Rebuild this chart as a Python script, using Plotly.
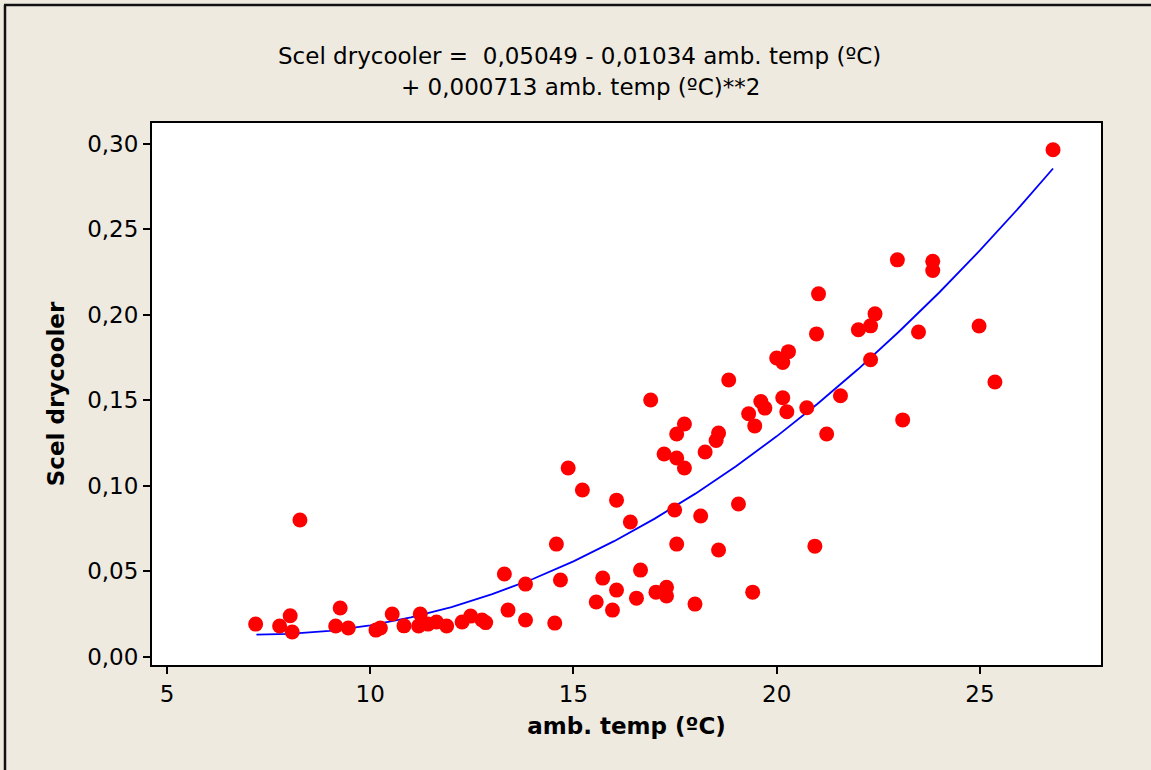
import plotly.graph_objects as go

# Scatter data: ambient temperature (ºC) vs Scel drycooler
amb_temp = [7.18, 7.77, 8.03, 8.08, 8.27, 9.15, 9.26, 9.46, 10.14, 10.25,
            10.54, 10.83, 11.23, 11.19, 11.42, 11.63, 11.88, 12.26, 12.47, 12.75,
            12.84, 13.30, 13.39, 13.82, 13.82, 14.54, 14.58, 14.68, 14.87, 15.22,
            15.56, 15.72, 15.96, 16.06, 16.06, 16.40, 16.55, 16.65, 16.90, 17.03,
            17.29, 17.29, 17.23, 17.49, 17.54, 17.54, 17.54, 17.73, 17.73, 17.99,
            18.13, 18.24, 18.51, 18.57, 18.57, 18.82, 19.06, 19.31, 19.41, 19.46,
            19.61, 19.71, 20.00, 20.15, 20.29, 20.15, 20.25, 20.74, 20.94, 20.98,
            21.03, 21.23, 21.57, 22.01, 22.31, 22.31, 22.42, 22.97, 23.10, 23.49,
            23.84, 23.84, 24.98, 25.37, 26.80]
scel = [0.0191, 0.0180, 0.0240, 0.0145, 0.0800, 0.0180, 0.0285, 0.0168, 0.0156, 0.0168,
        0.0250, 0.0181, 0.0250, 0.0180, 0.0191, 0.0203, 0.0180, 0.0203, 0.0238, 0.0215,
        0.0200, 0.0484, 0.0273, 0.0425, 0.0215, 0.0197, 0.0659, 0.0449, 0.1104, 0.0975,
        0.0320, 0.0460, 0.0273, 0.0390, 0.0916, 0.0788, 0.0343, 0.0507, 0.1501, 0.0378,
        0.0406, 0.0355, 0.1186, 0.0858, 0.0659, 0.1303, 0.1162, 0.1361, 0.1104, 0.0308,
        0.0823, 0.1197, 0.1265, 0.1308, 0.0624, 0.1618, 0.0893, 0.1421, 0.0378, 0.1350,
        0.1493, 0.1454, 0.1747, 0.1721, 0.1784, 0.1515, 0.1433, 0.1456, 0.0647, 0.1888,
        0.2122, 0.1303, 0.1526, 0.1912, 0.1935, 0.1737, 0.2005, 0.2321, 0.1385, 0.1899,
        0.2312, 0.2259, 0.1934, 0.1607, 0.2965]

# Fitted curve
fit_x = [7.2, 8, 9, 10, 11, 12, 13, 14, 15, 16, 17, 18, 19, 20, 21, 22, 23, 24, 25, 26, 26.8]
fit_y = [0.0130, 0.0134, 0.0152, 0.0184, 0.0230, 0.0291, 0.0366, 0.0455, 0.0558, 0.0676,
         0.0808, 0.0954, 0.1114, 0.1289, 0.1478, 0.1681, 0.1899, 0.2130, 0.2376, 0.2636, 0.2855]

x_ticks = [5, 10, 15, 20, 25]
y_ticks = [0.00, 0.05, 0.10, 0.15, 0.20, 0.25, 0.30]
y_tick_labels = ["0,00", "0,05", "0,10", "0,15", "0,20", "0,25", "0,30"]

title_line1 = "Scel drycooler =  0,05049 - 0,01034 amb. temp (ºC)"
title_line2 = "+ 0,000713 amb. temp (ºC)**2"

FONT = "DejaVu Sans"
BG = "#EEEAE0"
FS = 23

fig = go.Figure()
fig.add_trace(go.Scatter(x=fit_x, y=fit_y, mode="lines",
                         line=dict(color="#0000FF", width=1.8), showlegend=False))
fig.add_trace(go.Scatter(x=amb_temp, y=scel, mode="markers",
                         marker=dict(color="#FF0000", size=15, line=dict(width=0)),
                         showlegend=False))

L, R, T, B = 152, 50, 123, 105
W, H = 1151, 770
pw, ph = W - L - R, H - T - B

def px_to_paper_x(px):
    return (px - L) / pw

def px_to_paper_y(py):
    return (H - B - py) / ph

fig.update_layout(
    width=W, height=H,
    margin=dict(l=L, r=R, t=T, b=B, pad=0),
    paper_bgcolor=BG, plot_bgcolor="white",
    font=dict(family=FONT, color="black"),
    xaxis=dict(range=[4.63, 27.98], tickvals=x_ticks, ticktext=[str(v) for v in x_ticks],
               showgrid=False, zeroline=False, showline=True, linecolor="black",
               linewidth=2, mirror=True, ticks="outside", ticklen=7, tickwidth=1.5,
               tickcolor="black", tickfont=dict(size=FS, family=FONT),
               title=dict(text="<b>amb. temp (ºC)</b>", font=dict(size=FS, family=FONT),
                          standoff=12)),
    yaxis=dict(range=[-0.0048, 0.3121], tickvals=y_ticks, ticktext=y_tick_labels,
               showgrid=False, zeroline=False, showline=True, linecolor="black",
               linewidth=2, mirror=True, ticks="outside", ticklen=7, tickwidth=1.5,
               tickcolor="black", tickfont=dict(size=FS, family=FONT),
               title=dict(text="<b>Scel drycooler</b>", font=dict(size=FS, family=FONT),
                          standoff=16)),
    annotations=[
        dict(text=title_line1, xref="paper", yref="paper",
             x=px_to_paper_x(579), y=px_to_paper_y(56), showarrow=False,
             xanchor="center", yanchor="middle", font=dict(size=FS, family=FONT)),
        dict(text=title_line2, xref="paper", yref="paper",
             x=px_to_paper_x(580), y=px_to_paper_y(87), showarrow=False,
             xanchor="center", yanchor="middle", font=dict(size=FS, family=FONT)),
    ],
    shapes=[
        dict(type="line", xref="paper", yref="paper",
             x0=px_to_paper_x(5), x1=px_to_paper_x(5),
             y0=px_to_paper_y(5), y1=px_to_paper_y(780),
             line=dict(color="#111111", width=2.5)),
        dict(type="line", xref="paper", yref="paper",
             x0=px_to_paper_x(4), x1=px_to_paper_x(1160),
             y0=px_to_paper_y(5), y1=px_to_paper_y(5),
             line=dict(color="#111111", width=2.5)),
    ],
)

fig.write_html("out.html", config={"displayModeBar": False},
               post_script="document.body.style.margin='0';document.body.style.overflow='hidden';")
